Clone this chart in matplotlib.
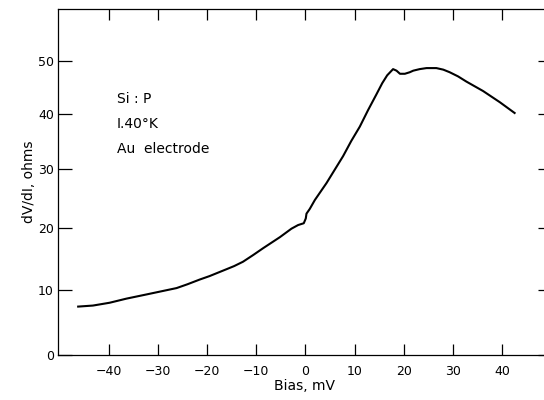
import numpy as np
import matplotlib
matplotlib.use("Agg")
import matplotlib.pyplot as plt

# curve
bias = [-46.2, -43.2, -39.8, -36.4, -32.3, -26.2, -24.0, -21.5, -19.5, -16.05,
        -14.5, -12.7, -10.6, -8.6, -5.2, -2.85, -1.5, -0.35, 0.06, 0.2,
        0.87, 1.9, 4.27, 7.64, 9.3, 11.04, 12.7, 14.43, 15.6, 16.6,
        17.8, 18.5, 19.2, 20.2, 21.2, 21.9, 23.2, 24.6, 26.6, 28.0,
        29.3, 31.0, 32.7, 36.1, 39.5, 42.5]
dvdi = [7.4, 7.56, 8.0, 8.64, 9.3, 10.3, 10.9, 11.65, 12.2, 13.3,
        13.8, 14.5, 15.6, 16.7, 18.5, 19.9, 20.5, 20.8, 21.6, 22.4,
        23.2, 24.7, 27.6, 32.3, 35.0, 37.6, 40.6, 43.6, 45.7, 47.2,
        48.4, 48.1, 47.5, 47.5, 47.8, 48.1, 48.4, 48.6, 48.6, 48.3,
        47.8, 47.0, 46.0, 44.2, 42.1, 40.1]

xticks = [-40, -30, -20, -10, 0, 10, 20, 30, 40]
yticks = [0, 10, 20, 30, 40, 50]
notes = ["Si : P", "I.40\u00b0K", "Au  electrode"]

# the scanned y axis is slightly compressed toward the top
K = 0.002329
def fwd(y):
    y = np.asarray(y, dtype=float)
    return y - K * y * y
def inv(f):
    f = np.asarray(f, dtype=float)
    return (1 - np.sqrt(np.clip(1 - 4 * K * f, 0, None))) / (2 * K)

fig = plt.figure(figsize=(5.44, 4.0), dpi=100)
ax = fig.add_axes([58 / 544, 45 / 400, 494 / 544, 346 / 400])
ax.set_yscale("function", functions=(fwd, inv))

ax.plot(bias, dvdi, color="black", lw=1.5, solid_joinstyle="round")

ax.set_xlim(-50.3, 50.1)
ax.set_ylim(0, 60.5)
ax.set_xticks(xticks)
ax.set_xticklabels([str(t).replace("-", "\u2212") for t in xticks])
ax.set_yticks(yticks)
ax.set_yticklabels([str(t) for t in yticks])
ax.minorticks_off()

ax.tick_params(axis="x", direction="in", length=8, width=0.9, top=True,
               labelsize=9, pad=7)
ax.tick_params(axis="y", direction="in", length=10, width=0.9, right=True,
               labelsize=9, pad=3)
for s in ax.spines.values():
    s.set_linewidth(0.9)

ax.set_xlabel("Bias, mV", fontsize=10, labelpad=1)
ax.set_ylabel("dV/dI, ohms", fontsize=10, labelpad=1)

for i, t in enumerate(notes):
    fig.text(117 / 544, 1 - (99 + 25 * i) / 400, t, fontsize=10,
             va="center", ha="left")

fig.savefig("out.png", dpi=100)
